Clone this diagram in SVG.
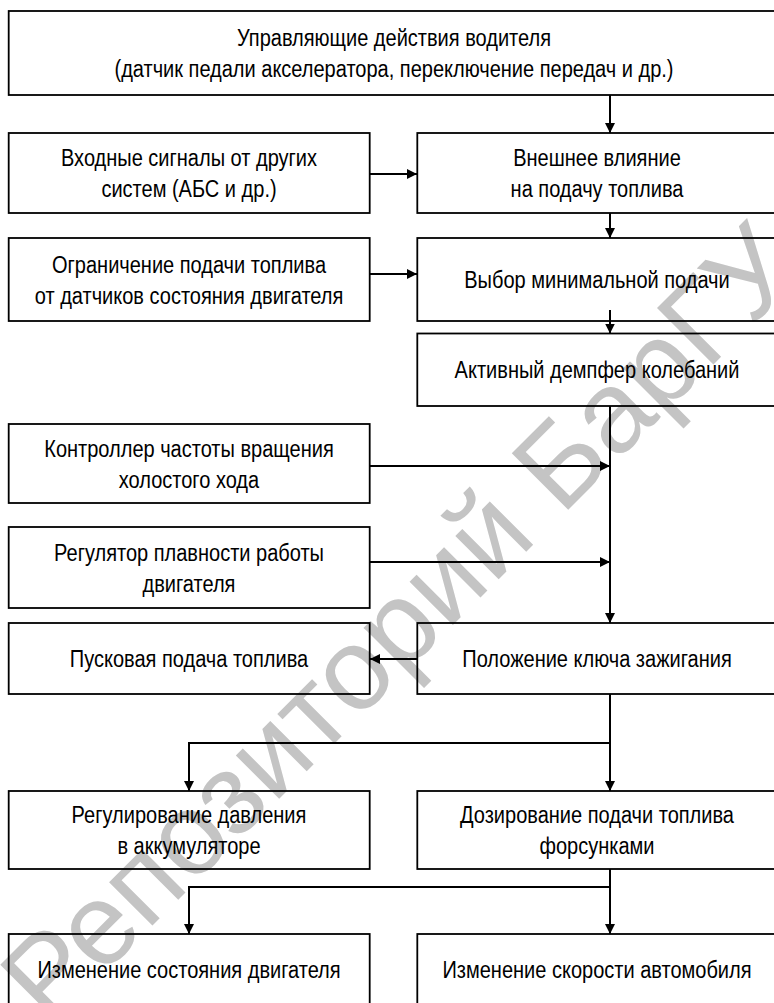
<svg xmlns="http://www.w3.org/2000/svg" width="774" height="1003" viewBox="0 0 774 1003">
<style>
.box{fill:none;stroke:#000;stroke-width:1.8}
.t{font-family:"Liberation Sans",Arial,sans-serif;font-size:23px;fill:#000;text-anchor:middle}
.c{fill:none;stroke:#000;stroke-width:2}
.wm{font-family:"Liberation Sans",Arial,sans-serif;font-size:116px;fill:#c4c4c4}
</style>
<defs>
<marker id="ah" markerUnits="userSpaceOnUse" markerWidth="10" markerHeight="10" refX="10" refY="5" orient="auto">
<path d="M0,0 L10,5 L0,10 Z" fill="#000"/>
</marker>
</defs>
<rect width="774" height="1003" fill="#fff"/>
<text class="wm" transform="translate(50,1028) rotate(-45)">Репозиторий БарГУ</text>
<g id="n1"><rect class="box" x="8.7" y="11" width="771" height="84"/><g transform="translate(394,0) scale(0.87,1)"><text class="t" x="0" y="46">Управляющие действия водителя</text><text class="t" x="0" y="77">(датчик педали акселератора, переключение передач и др.)</text></g></g>
<g id="n2"><rect class="box" x="8.7" y="133" width="361" height="80"/><g transform="translate(189,0) scale(0.87,1)"><text class="t" x="0" y="166">Входные сигналы от других</text><text class="t" x="0" y="197">систем (АБС и др.)</text></g></g>
<g id="n3"><rect class="box" x="417.3" y="133" width="360" height="80"/><g transform="translate(597,0) scale(0.87,1)"><text class="t" x="0" y="166">Внешнее влияние</text><text class="t" x="0" y="197">на подачу топлива</text></g></g>
<g id="n4"><rect class="box" x="8.7" y="238" width="361" height="83"/><g transform="translate(189,0) scale(0.87,1)"><text class="t" x="0" y="273">Ограничение подачи топлива</text><text class="t" x="0" y="304">от датчиков состояния двигателя</text></g></g>
<g id="n5"><rect class="box" x="417.3" y="238" width="360" height="83"/><g transform="translate(597,0) scale(0.87,1)"><text class="t" x="0" y="288">Выбор минимальной подачи</text></g></g>
<g id="n6"><rect class="box" x="417.3" y="333.5" width="360" height="72.5"/><g transform="translate(597,0) scale(0.87,1)"><text class="t" x="0" y="378">Активный демпфер колебаний</text></g></g>
<g id="n7"><rect class="box" x="8.7" y="424" width="361" height="79"/><g transform="translate(189,0) scale(0.87,1)"><text class="t" x="0" y="457">Контроллер частоты вращения</text><text class="t" x="0" y="488">холостого хода</text></g></g>
<g id="n8"><rect class="box" x="8.7" y="527" width="361" height="81"/><g transform="translate(189,0) scale(0.87,1)"><text class="t" x="0" y="561">Регулятор плавности работы</text><text class="t" x="0" y="592">двигателя</text></g></g>
<g id="n9"><rect class="box" x="8.7" y="623" width="361" height="71"/><g transform="translate(189,0) scale(0.87,1)"><text class="t" x="0" y="667">Пусковая подача топлива</text></g></g>
<g id="n10"><rect class="box" x="417.3" y="623" width="360" height="71"/><g transform="translate(597,0) scale(0.87,1)"><text class="t" x="0" y="667">Положение ключа зажигания</text></g></g>
<g id="n11"><rect class="box" x="8.7" y="791" width="361" height="78"/><g transform="translate(189,0) scale(0.87,1)"><text class="t" x="0" y="823">Регулирование давления</text><text class="t" x="0" y="854">в аккумуляторе</text></g></g>
<g id="n12"><rect class="box" x="417.3" y="791" width="360" height="78"/><g transform="translate(597,0) scale(0.87,1)"><text class="t" x="0" y="823">Дозирование подачи топлива</text><text class="t" x="0" y="854">форсунками</text></g></g>
<g id="n13"><rect class="box" x="8.7" y="934" width="361" height="80"/><g transform="translate(189,0) scale(0.87,1)"><text class="t" x="0" y="978">Изменение состояния двигателя</text></g></g>
<g id="n14"><rect class="box" x="417.3" y="934" width="360" height="80"/><g transform="translate(597,0) scale(0.87,1)"><text class="t" x="0" y="978">Изменение скорости автомобиля</text></g></g>
<g id="connectors">
<path class="c" d="M610,95 V133" marker-end="url(#ah)"/>
<path class="c" d="M370,174 H417" marker-end="url(#ah)"/>
<path class="c" d="M610,213 V238" marker-end="url(#ah)"/>
<path class="c" d="M370,274 H417" marker-end="url(#ah)"/>
<path class="c" d="M610,310 V333.5" marker-end="url(#ah)"/>
<path class="c" d="M610,406 V623" marker-end="url(#ah)"/>
<path class="c" d="M370,466 H610" marker-end="url(#ah)"/>
<path class="c" d="M370,562 H610" marker-end="url(#ah)"/>
<path class="c" d="M417,659 H370" marker-end="url(#ah)"/>
<path class="c" d="M610,694 V791" marker-end="url(#ah)"/>
<path class="c" d="M610,743 H189 V791" marker-end="url(#ah)"/>
<path class="c" d="M610,869 V934" marker-end="url(#ah)"/>
<path class="c" d="M610,887 H189 V934" marker-end="url(#ah)"/>
</g>
</svg>
